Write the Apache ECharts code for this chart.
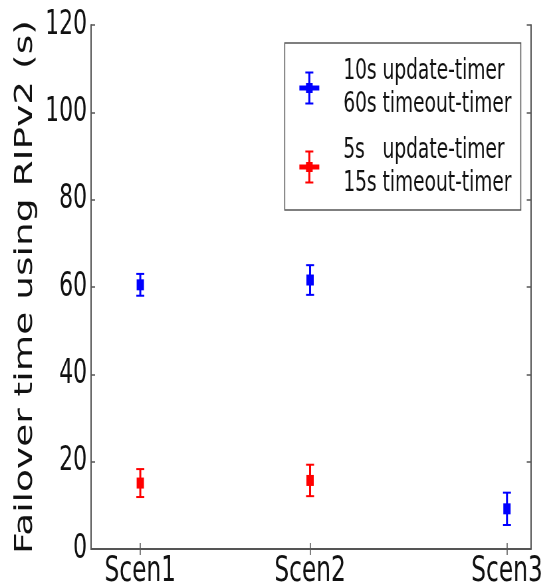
<!DOCTYPE html>
<html>
<head>
<meta charset="utf-8">
<script src="https://cdn.jsdelivr.net/npm/echarts@6/dist/echarts.min.js"></script>
<style>
html,body{margin:0;padding:0;background:#fff;overflow:hidden;width:549px;height:587px;}
#chart{width:826px;height:587px;transform:scaleX(0.66465);transform-origin:0 0;}
</style>
</head>
<body>
<div id="chart"></div>
<script>
// ---- data ----
const categories = ['Scen1', 'Scen2', 'Scen3'];
const categoryPositions = [1, 2, 3.16];
const yTicks = [0, 20, 40, 60, 80, 100, 120];

const seriesNames = ['10s update-timer\n60s timeout-timer', '5s   update-timer\n15s timeout-timer'];
const blueMeans = [60.5, 61.6, 9.2];
const blueErrors = [2.5, 3.4, 3.7];
const blueScenarios = [0, 1, 2];
const redMeans = [15.1, 15.7];
const redErrors = [3.2, 3.6];
const redScenarios = [0, 1];

const yTitle = 'Failover time using RIPv2 (s)';

// ---- build ----
function rows(scen, means, errs) {
  return scen.map((s, i) => [categoryPositions[s], means[i], errs[i]]);
}
function renderErr(params, api) {
  const x = api.value(0), y = api.value(1), e = api.value(2);
  const c = api.coord([x, y]);
  const t = api.coord([x, y + e]);
  const b = api.coord([x, y - e]);
  const col = api.visual('color');
  return {
    type: 'group',
    children: [
      {type: 'line', shape: {x1: c[0], y1: t[1], x2: c[0], y2: b[1]}, style: {stroke: col, lineWidth: 3}},
      {type: 'line', shape: {x1: c[0] - 6, y1: t[1], x2: c[0] + 6, y2: t[1]}, style: {stroke: col, lineWidth: 2}},
      {type: 'line', shape: {x1: c[0] - 6, y1: b[1], x2: c[0] + 6, y2: b[1]}, style: {stroke: col, lineWidth: 2}},
      {type: 'rect', shape: {x: c[0] - 5.5, y: c[1] - 5.5, width: 11, height: 11}, style: {fill: col}}
    ]
  };
}
const iconPath = 'path://M13.5,0 L16.5,0 L16.5,33 L13.5,33 Z M9,0 L21,0 L21,2 L9,2 Z M9,31 L21,31 L21,33 L9,33 Z M0,14 L30,14 L30,19 L0,19 Z M10,11.5 L20,11.5 L20,21.5 L10,21.5 Z';

const xMin = 0.71, xMax = 3.30;
const frameLine = {show: true, lineStyle: {color: '#555', width: 2}};
const tickIn = (len) => ({show: true, inside: true, length: len, lineStyle: {color: '#555', width: 1.5}});

const chart = echarts.init(document.getElementById('chart'));
chart.setOption({
  animation: false,
  backgroundColor: '#fff',
  grid: {left: 137, right: 27.5, top: 25, bottom: 38, outerBoundsMode: 'none', containLabel: false},
  legend: {
    orient: 'vertical',
    right: 42.5,
    top: 43,
    padding: [12, 14, 10, 22],
    itemGap: 13,
    itemWidth: 30,
    itemHeight: 33,
    borderColor: '#555',
    borderWidth: 1.5,
    backgroundColor: '#fff',
    icon: iconPath,
    textStyle: {fontFamily: 'DejaVu Sans', fontSize: 28, lineHeight: 33, color: '#111', padding: [0, 0, 0, 31]},
    data: seriesNames
  },
  xAxis: [
    {
      type: 'value', position: 'bottom', min: xMin, max: xMax,
      splitLine: {show: false}, axisLine: frameLine,
      axisTick: Object.assign(tickIn(6), {customValues: categoryPositions}),
      axisLabel: {
        customValues: categoryPositions, margin: 5,
        fontFamily: 'DejaVu Sans', fontSize: 35, color: '#111',
        formatter: v => { const i = categoryPositions.findIndex(p => Math.abs(p - v) < 1e-6); return i >= 0 ? categories[i] : ''; }
      }
    },
    {
      type: 'value', position: 'top', min: xMin, max: xMax,
      splitLine: {show: false}, axisLine: frameLine,
      axisTick: Object.assign(tickIn(6), {customValues: categoryPositions}),
      axisLabel: {show: false}
    }
  ],
  yAxis: [
    {
      type: 'value', position: 'left', min: yTicks[0], max: yTicks[yTicks.length - 1], interval: yTicks[1] - yTicks[0],
      splitLine: {show: false}, axisLine: frameLine, axisTick: tickIn(6),
      axisLabel: {fontFamily: 'DejaVu Sans', fontSize: 33, color: '#111', margin: 6},
      name: yTitle, nameLocation: 'middle', nameGap: 66, nameRotate: 90,
      nameTextStyle: {fontFamily: 'DejaVu Sans', fontSize: 37.5, color: '#111'}
    },
    {
      type: 'value', position: 'right', min: yTicks[0], max: yTicks[yTicks.length - 1], interval: yTicks[1] - yTicks[0],
      splitLine: {show: false}, axisLine: frameLine, axisTick: tickIn(6),
      axisLabel: {show: false}
    }
  ],
  series: [
    {
      name: seriesNames[0], type: 'custom', renderItem: renderErr,
      itemStyle: {color: '#0000ff'},
      encode: {x: 0, y: 1},
      data: rows(blueScenarios, blueMeans, blueErrors), z: 3
    },
    {
      name: seriesNames[1], type: 'custom', renderItem: renderErr,
      itemStyle: {color: '#ff0000'},
      encode: {x: 0, y: 1},
      data: rows(redScenarios, redMeans, redErrors), z: 3
    }
  ]
});
</script>
</body>
</html>
